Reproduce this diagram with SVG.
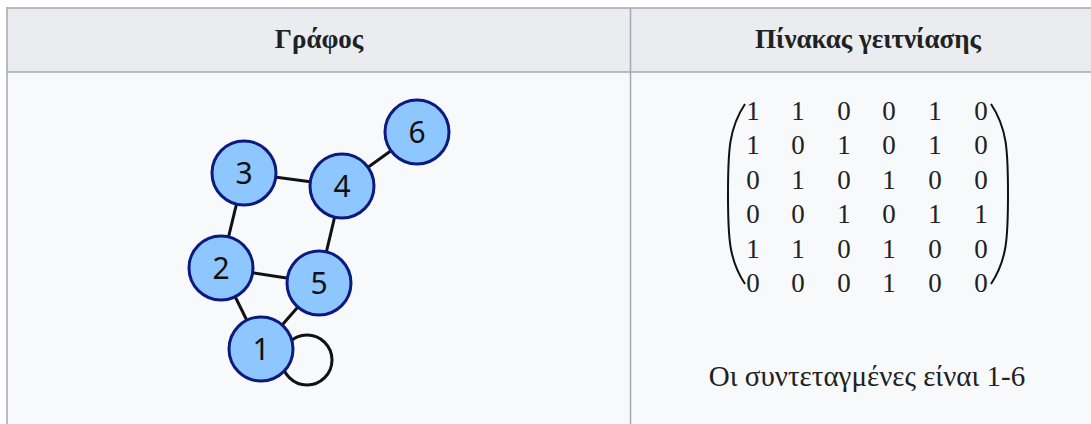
<svg xmlns="http://www.w3.org/2000/svg" width="1091" height="424" viewBox="0 0 1091 424">
<style>
.hdr{font-family:"Liberation Serif",serif;font-weight:bold;font-size:27px;fill:#202122;text-anchor:middle}
.num{font-family:"Liberation Serif",serif;font-size:27px;fill:#202122;text-anchor:middle}
.cap{font-family:"Liberation Serif",serif;font-size:29px;fill:#202122;text-anchor:middle}
.node circle{fill:#8ec6ff;stroke:#0c1a80;stroke-width:3}
.node text{font-family:"Noto Sans","Open Sans",sans-serif;font-size:30px;fill:#111;text-anchor:middle}
.edges line,.edges circle{stroke:#111;stroke-width:3;fill:none}
.paren{fill:none;stroke:#111;stroke-width:2}
</style>
<rect x="0" y="0" width="1091" height="424" fill="#ffffff"/>
<g id="table">
<rect x="7" y="8" width="1100" height="64" fill="#eaecf0"/>
<rect x="7" y="72" width="1100" height="360" fill="#f8f9fa"/>
<line x1="7" y1="8" x2="1091" y2="8" stroke="#a2a9b1" stroke-width="1.5"/>
<line x1="7" y1="72" x2="1091" y2="72" stroke="#a2a9b1" stroke-width="1.5"/>
<line x1="7" y1="7" x2="7" y2="424" stroke="#a2a9b1" stroke-width="1.5"/>
<line x1="630.5" y1="8" x2="630.5" y2="424" stroke="#a2a9b1" stroke-width="1.5"/>
<text class="hdr" x="319" y="48">Γράφος</text>
<text class="hdr" x="868" y="48">Πίνακας γειτνίασης</text>
</g>
<g id="connectors" class="edges">
<circle cx="307" cy="360" r="25"/>
<line x1="261" y1="349" x2="221" y2="268"/>
<line x1="261" y1="349" x2="319" y2="283"/>
<line x1="221" y1="268" x2="319" y2="283"/>
<line x1="221" y1="268" x2="244" y2="173"/>
<line x1="244" y1="173" x2="342" y2="186"/>
<line x1="342" y1="186" x2="319" y2="283"/>
<line x1="342" y1="186" x2="417" y2="132"/>
</g>
<g id="node1" class="node"><circle cx="261" cy="349" r="32"/><text x="261" y="360">1</text></g>
<g id="node2" class="node"><circle cx="221" cy="268" r="32"/><text x="221" y="279">2</text></g>
<g id="node3" class="node"><circle cx="244" cy="173" r="32"/><text x="244" y="184">3</text></g>
<g id="node4" class="node"><circle cx="342" cy="186" r="32"/><text x="342" y="197">4</text></g>
<g id="node5" class="node"><circle cx="319" cy="283" r="32"/><text x="319" y="294">5</text></g>
<g id="node6" class="node"><circle cx="417" cy="132" r="32"/><text x="417" y="143">6</text></g>
<g id="matrix">
<path class="paren" d="M745,104 C729,128 728,150 728,194 C728,238 729,260 745,284"/>
<path class="paren" d="M991,104 C1007,128 1008,150 1008,194 C1008,238 1007,260 991,284"/>
<g class="num">
<text x="753" y="120">1</text><text x="798" y="120">1</text><text x="844" y="120">0</text><text x="889" y="120">0</text><text x="935" y="120">1</text><text x="981" y="120">0</text>
<text x="753" y="154">1</text><text x="798" y="154">0</text><text x="844" y="154">1</text><text x="889" y="154">0</text><text x="935" y="154">1</text><text x="981" y="154">0</text>
<text x="753" y="189">0</text><text x="798" y="189">1</text><text x="844" y="189">0</text><text x="889" y="189">1</text><text x="935" y="189">0</text><text x="981" y="189">0</text>
<text x="753" y="223">0</text><text x="798" y="223">0</text><text x="844" y="223">1</text><text x="889" y="223">0</text><text x="935" y="223">1</text><text x="981" y="223">1</text>
<text x="753" y="258">1</text><text x="798" y="258">1</text><text x="844" y="258">0</text><text x="889" y="258">1</text><text x="935" y="258">0</text><text x="981" y="258">0</text>
<text x="753" y="292">0</text><text x="798" y="292">0</text><text x="844" y="292">0</text><text x="889" y="292">1</text><text x="935" y="292">0</text><text x="981" y="292">0</text>
</g>
</g>
<text class="cap" x="867" y="386">Οι συντεταγμένες είναι 1-6</text>
</svg>
